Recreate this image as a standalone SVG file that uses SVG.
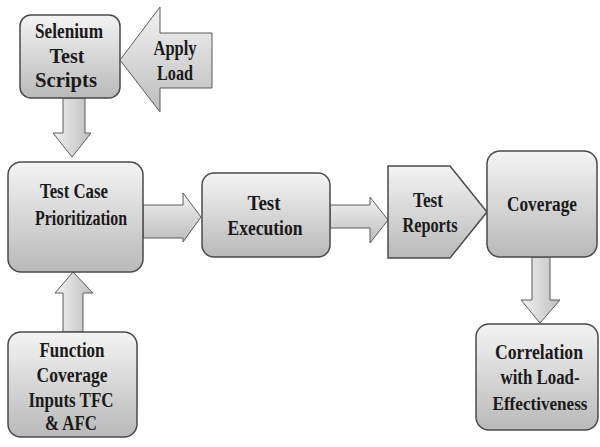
<svg xmlns="http://www.w3.org/2000/svg" width="600" height="447" viewBox="0 0 600 447">
<defs>
<linearGradient id="gBox" x1="0" y1="0" x2="0" y2="1">
<stop offset="0" stop-color="#f4f4f4"/>
<stop offset="1" stop-color="#b9b9b9"/>
</linearGradient>
<linearGradient id="gH" x1="0" y1="0" x2="1" y2="0">
<stop offset="0" stop-color="#f2f2f2"/>
<stop offset="1" stop-color="#bdbdbd"/>
</linearGradient>
<linearGradient id="gV" x1="0" y1="0" x2="0" y2="1">
<stop offset="0" stop-color="#f2f2f2"/>
<stop offset="1" stop-color="#bdbdbd"/>
</linearGradient>
</defs>
<style>
.box{fill:url(#gBox);stroke:#4a4a4a;stroke-width:1.5}
.arrH{fill:url(#gV);stroke:#5a5a5a;stroke-width:1}
.arrV{fill:url(#gH);stroke:#5a5a5a;stroke-width:1}
text{font-family:"Liberation Serif","Times New Roman",serif;font-weight:bold;font-size:20px;fill:#1a1a1a;text-anchor:middle}
</style>
<rect width="600" height="447" fill="#ffffff"/>
<g id="connectors">
<polygon class="arrV" points="63,98 85,98 85,133 91,133 72,157 53,133 63,133"/>
<polygon class="arrH" points="143,205 183,205 183,193 201,217 183,242 183,238 143,238"/>
<polygon class="arrH" points="330,205 370,205 370,197 388,220 370,243 370,228 330,228"/>
<polygon class="arrV" points="532,257 550,257 550,300 560,300 540,323 521,300 532,300"/>
<polygon class="arrV" points="63,332 83,332 83,293 93,293 73,272 55,293 63,293"/>
</g>
<g id="selenium">
<rect class="box" x="20" y="15" width="100" height="83" rx="11"/>
<text x="69" y="38" textLength="68" lengthAdjust="spacingAndGlyphs">Selenium</text>
<text x="67" y="63" textLength="35" lengthAdjust="spacingAndGlyphs">Test</text>
<text x="66" y="87" textLength="62" lengthAdjust="spacingAndGlyphs">Scripts</text>
</g>
<g id="apply-load">
<polygon class="arrH" points="120,60 160,7 160,33 212,33 212,88 160,88 160,112"/>
<text x="175" y="55" textLength="43" lengthAdjust="spacingAndGlyphs">Apply</text>
<text x="175" y="80" textLength="36" lengthAdjust="spacingAndGlyphs">Load</text>
</g>
<g id="tcp">
<rect class="box" x="8" y="162" width="135" height="110" rx="13"/>
<text x="74" y="198" textLength="68" lengthAdjust="spacingAndGlyphs">Test Case</text>
<text x="81" y="225" textLength="92" lengthAdjust="spacingAndGlyphs">Prioritization</text>
</g>
<g id="test-execution">
<rect class="box" x="202" y="173" width="128" height="84" rx="12"/>
<text x="264" y="210" textLength="33" lengthAdjust="spacingAndGlyphs">Test</text>
<text x="265" y="235" textLength="75" lengthAdjust="spacingAndGlyphs">Execution</text>
</g>
<g id="test-reports">
<polygon class="box" points="388,166 450,166 487,212 450,258 388,258"/>
<text x="428" y="207" textLength="30" lengthAdjust="spacingAndGlyphs">Test</text>
<text x="430" y="232" textLength="55" lengthAdjust="spacingAndGlyphs">Reports</text>
</g>
<g id="coverage">
<rect class="box" x="487" y="151" width="110" height="106" rx="13"/>
<text x="542" y="211" textLength="70" lengthAdjust="spacingAndGlyphs">Coverage</text>
</g>
<g id="function-coverage">
<rect class="box" x="8" y="332" width="129" height="105" rx="13"/>
<text x="72" y="357" textLength="65" lengthAdjust="spacingAndGlyphs">Function</text>
<text x="72" y="382" textLength="71" lengthAdjust="spacingAndGlyphs">Coverage</text>
<text x="71" y="407" textLength="85" lengthAdjust="spacingAndGlyphs">Inputs TFC</text>
<text x="71" y="430" textLength="52" lengthAdjust="spacingAndGlyphs">&amp; AFC</text>
</g>
<g id="correlation">
<rect class="box" x="476" y="324" width="122" height="106" rx="13"/>
<text x="539" y="359" textLength="88" lengthAdjust="spacingAndGlyphs">Correlation</text>
<text x="540" y="384" textLength="79" lengthAdjust="spacingAndGlyphs">with Load-</text>
<text x="540" y="410" style="font-size:19px" textLength="95" lengthAdjust="spacingAndGlyphs">Effectiveness</text>
</g>
</svg>
